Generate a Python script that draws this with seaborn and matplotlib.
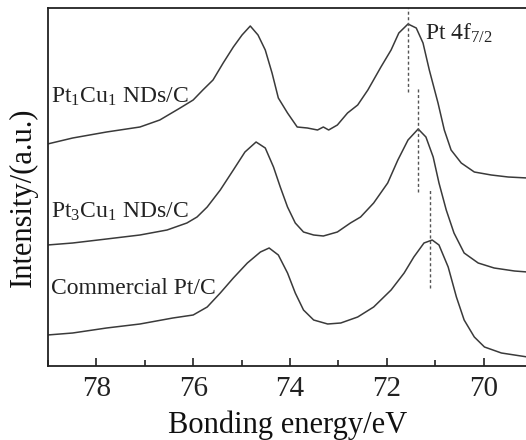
import numpy as np
import pandas as pd
import matplotlib
matplotlib.use("Agg")
import matplotlib.pyplot as plt
import seaborn as sns
from matplotlib.ticker import MultipleLocator

# ---- data (intensity in arbitrary offset units) ----
e_ptcu11 = [79.01, 78.49, 77.79, 77.10, 76.69, 76.27, 76.00, 75.80, 75.59, 75.38, 75.17,
            74.99, 74.82, 74.66, 74.51, 74.37, 74.24, 74.05, 73.85, 73.64, 73.43, 73.31,
            73.20, 73.02, 72.81, 72.60, 72.39, 72.12, 71.91, 71.75, 71.56, 71.39, 71.25,
            71.12, 70.94, 70.81, 70.67, 70.46, 70.19, 69.84, 69.49, 69.09]
i_ptcu11 = [222, 228, 234, 239, 246, 258, 266, 276, 286, 303, 319,
            331, 340, 331, 316, 293, 268, 253, 239, 238, 236, 239,
            236, 241, 253, 261, 276, 299, 316, 333, 342, 338, 323,
            296, 263, 236, 216, 203, 194, 191, 189, 188]

e_ptcu31 = [79.01, 78.49, 77.79, 77.10, 76.54, 76.13, 75.92, 75.71, 75.44, 75.17, 74.93,
            74.70, 74.51, 74.34, 74.20, 74.05, 73.89, 73.72, 73.51, 73.31, 73.02, 72.75,
            72.54, 72.27, 71.98, 71.77, 71.56, 71.35, 71.19, 71.04, 70.92, 70.77, 70.61,
            70.40, 70.11, 69.78, 69.36, 69.09]
i_ptcu31 = [121, 123, 127, 131, 136, 143, 149, 159, 176, 196, 214,
            224, 218, 199, 179, 159, 143, 134, 131, 130, 134, 143,
            149, 163, 183, 206, 226, 237, 229, 209, 183, 156, 133,
            113, 103, 98, 95, 94]

e_comm = [79.01, 78.49, 77.79, 77.10, 76.42, 76.00, 75.71, 75.44, 75.17, 74.88, 74.61,
          74.43, 74.24, 74.05, 73.89, 73.72, 73.51, 73.22, 72.95, 72.60, 72.27, 71.91,
          71.64, 71.44, 71.23, 71.06, 70.92, 70.73, 70.56, 70.40, 70.19, 69.98, 69.63,
          69.09]
i_comm = [31, 33, 38, 42, 48, 51, 59, 73, 88, 103, 114,
          118, 111, 93, 73, 56, 46, 42, 43, 49, 59, 76,
          93, 109, 123, 126, 121, 99, 69, 46, 29, 19, 13,
          9]

labels = ["Pt$_{\\mathrm{1}}$Cu$_{\\mathrm{1}}$ NDs/C",
          "Pt$_{\\mathrm{3}}$Cu$_{\\mathrm{1}}$ NDs/C",
          "Commercial Pt/C"]
label_y = [269, 154, 78]
peak_e = [71.55, 71.35, 71.10]
peak_span = [(274, 358), (174, 278), (78, 178)]
xticks = [78, 76, 74, 72, 70]

df = pd.concat([
    pd.DataFrame({"E": e_ptcu11, "I": i_ptcu11, "s": labels[0]}),
    pd.DataFrame({"E": e_ptcu31, "I": i_ptcu31, "s": labels[1]}),
    pd.DataFrame({"E": e_comm, "I": i_comm, "s": labels[2]}),
])

sns.set_style("ticks")
plt.rcParams["font.family"] = ["Liberation Serif", "DejaVu Serif"]
plt.rcParams["mathtext.fontset"] = "custom"
plt.rcParams["mathtext.rm"] = "Liberation Serif"
plt.rcParams["mathtext.it"] = "Liberation Serif:italic"

fig = plt.figure(figsize=(5.26, 4.4), dpi=100)
ax = fig.add_axes([48/526, 74/440, 1 - 48/526 + 0.002, 358/440])

sns.lineplot(data=df, x="E", y="I", hue="s", palette=["#3a3a3a"]*3,
             legend=False, ax=ax, linewidth=1.1, estimator=None, sort=True)

for pe, (y0, y1) in zip(peak_e, peak_span):
    ax.plot([pe, pe], [y0, y1], ls=(0, (2.2, 1.8)), color="#555555", lw=1.0)

for lab, ly in zip(labels, label_y):
    ax.text(78.93, ly, lab, fontsize=17, va="center", ha="left", color="#222222")
ax.text(71.20, 326, "Pt 4f$_{\\mathrm{7/2}}$", fontsize=17, va="baseline", ha="left",
        color="#222222")

ax.set_xlim(79.0, 69.1)
ax.set_ylim(0, 358)
ax.set_xticks(xticks)
ax.xaxis.set_minor_locator(MultipleLocator(1))
ax.set_yticks([])
ax.tick_params(axis="x", which="both", direction="in", top=False, labelsize=21,
               width=1.2, pad=7.5, colors="#222222")
ax.tick_params(axis="x", which="major", length=6)
ax.tick_params(axis="x", which="minor", length=4)
for sp in ["left", "bottom", "top"]:
    ax.spines[sp].set_linewidth(1.3)
    ax.spines[sp].set_color("#222222")
ax.spines["right"].set_visible(False)

ax.set_xlabel("Bonding energy/eV", fontsize=22, labelpad=6, color="#111111")
ax.set_ylabel("Intensity/(a.u.)", fontsize=22, color="#111111")
ax.yaxis.set_label_coords(-0.022, 0.47)

fig.savefig("out.png", dpi=100)
